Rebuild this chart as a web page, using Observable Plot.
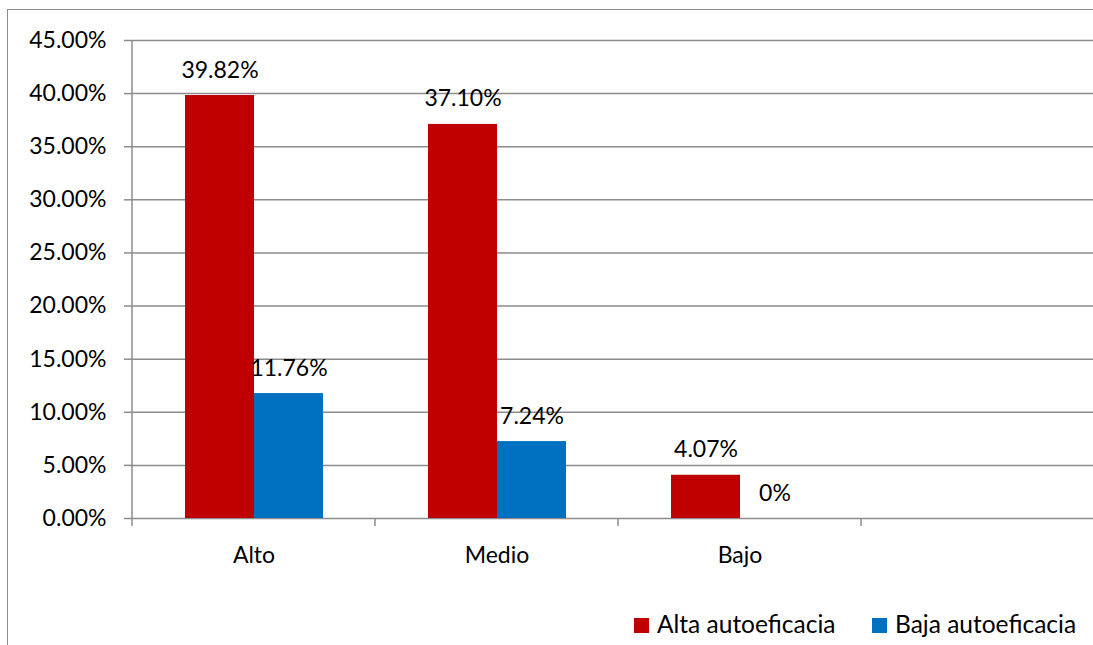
<!DOCTYPE html>
<html>
<head>
<meta charset="utf-8">
<script src="https://cdn.jsdelivr.net/npm/d3@7"></script>
<script src="https://cdn.jsdelivr.net/npm/@observablehq/plot@0.6"></script>
<style>
html,body{margin:0;padding:0;background:#fff;overflow:hidden;width:1093px;height:645px;}
#wrap{position:relative;width:1093px;height:645px;overflow:hidden;font-family:Lato,sans-serif;}
#frame{position:absolute;left:7px;top:9px;width:1200px;height:700px;border-left:1.5px solid #8c8c8c;border-top:1.5px solid #8c8c8c;}
#chart{position:absolute;left:0;top:0;}
#legend{position:absolute;left:0;top:612.3px;width:1093px;height:30px;font-size:24.5px;line-height:24px;color:#000;}
#legend .item{position:absolute;top:0;display:flex;align-items:flex-start;gap:8px;white-space:nowrap;}
#legend .sw{width:15px;height:15px;margin-top:5.7px;display:inline-block;}
</style>
</head>
<body>
<div id="wrap">
  <div id="frame"></div>
  <div id="chart"></div>
  <div id="legend"></div>
</div>
<script>
const categories = ["Alto", "Medio", "Bajo"];
const emptyCategory = " ";
const series = ["Alta autoeficacia", "Baja autoeficacia"];
const alta = [39.82, 37.10, 4.07];
const baja = [11.76, 7.24, 0];
const yTicks = [0, 5, 10, 15, 20, 25, 30, 35, 40, 45];
const colors = ["#C00000", "#0070C0"];

const data = categories.flatMap((c, i) => [
  {cat: c, series: series[0], value: alta[i]},
  {cat: c, series: series[1], value: baja[i]}
]);
const fxDomain = [...categories, emptyCategory];
const gridData = fxDomain.flatMap(c => yTicks.map(t => ({cat: c, tick: t})));
const fmt = v => v === 0 ? "0%" : v.toFixed(2) + "%";
const gridColor = "#8c8c8c";
const FS = 23;

const plot = Plot.plot({
  width: 1105,
  height: 645,
  marginLeft: 130,
  marginRight: 0,
  marginTop: 40,
  marginBottom: 127,
  style: {fontFamily: "Lato, sans-serif", fontSize: FS + "px", color: "#000", background: "transparent", maxWidth: "none"},
  fx: {domain: fxDomain, padding: 0, label: null, axis: "bottom", tickSize: 0, tickPadding: 28},
  x: {domain: series, paddingInner: 0, paddingOuter: 0.75, axis: null},
  y: {domain: [0, 45], axis: null},
  color: {domain: series, range: colors},
  marks: [
    Plot.ruleY(gridData, {fx: "cat", y: "tick", stroke: gridColor, strokeOpacity: 1, strokeWidth: 1.5}),
    Plot.axisY(yTicks, {label: null, tickSize: 8, tickPadding: 18, tickFormat: d => d.toFixed(2) + "%", stroke: gridColor, strokeWidth: 1.5, fontSize: FS, fill: "#000"}),
    Plot.barY(data, {fx: "cat", x: "series", y: "value", fill: "series"}),
    Plot.text(data, {fx: "cat", x: "series", y: "value", text: d => fmt(d.value), lineAnchor: "bottom", dy: -18, fill: "#000", fontSize: FS})
  ]
});
document.getElementById("chart").appendChild(plot);

// axis line and category boundary ticks from the plot's own scales
const fx = plot.scale("fx");
const y = plot.scale("y");
const svg = d3.select(plot);
const g = svg.append("g").attr("stroke", gridColor).attr("stroke-width", 1.5);
const dom = fx.domain;
const x0 = fx.apply(dom[0]);
g.append("line").attr("x1", x0).attr("x2", x0).attr("y1", y.apply(45)).attr("y2", y.apply(0));
const bounds = dom.map(v => fx.apply(v)).concat([fx.apply(dom[dom.length - 1]) + fx.bandwidth]);
bounds.forEach(b => {
  g.append("line").attr("x1", b).attr("x2", b).attr("y1", y.apply(0)).attr("y2", y.apply(0) + 8);
});

// legend
const legendLeft = [634, 872];
const legend = d3.select("#legend");
series.forEach((s, i) => {
  const item = legend.append("div").attr("class", "item").style("left", legendLeft[i] + "px");
  item.append("span").attr("class", "sw").style("background", colors[i]);
  item.append("span").text(s);
});
</script>
</body>
</html>
